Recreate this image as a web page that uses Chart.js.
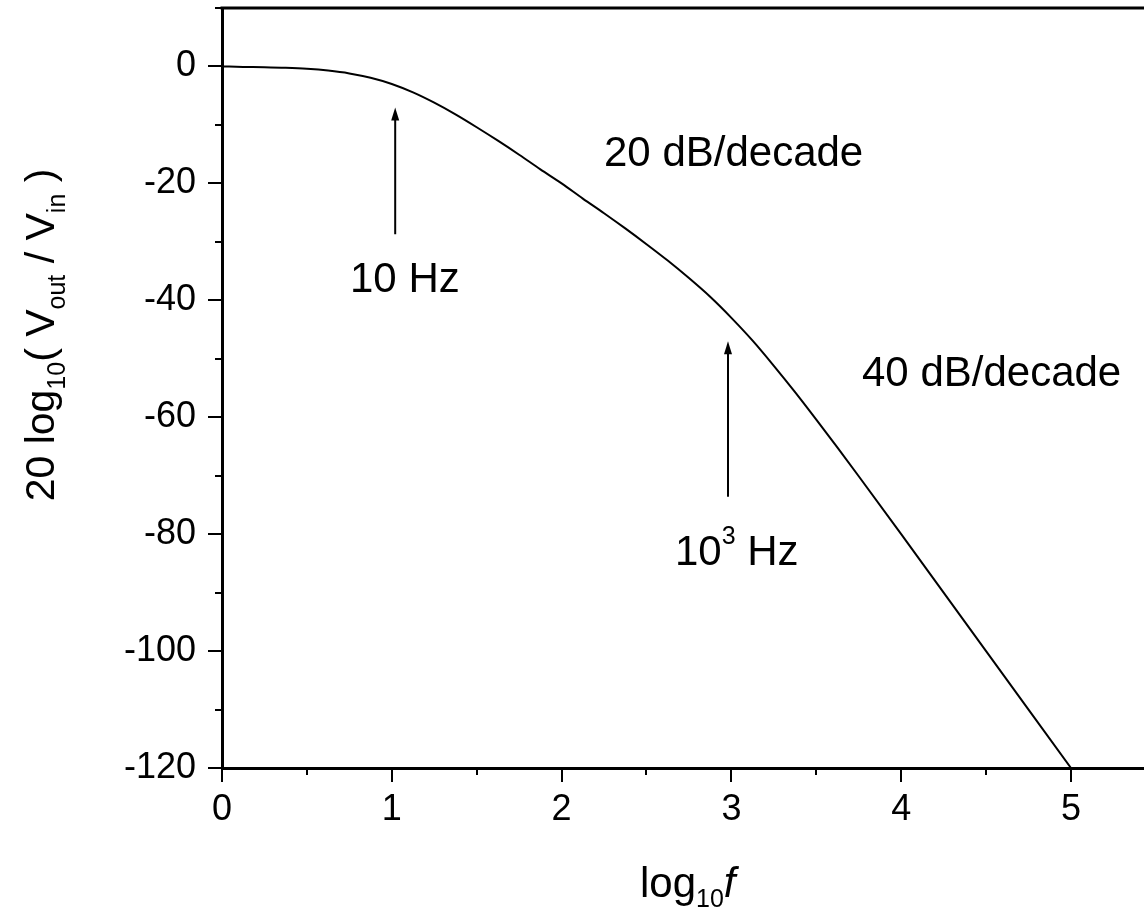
<!DOCTYPE html>
<html>
<head>
<meta charset="utf-8">
<script src="https://cdn.jsdelivr.net/npm/chart.js@4.4.1/dist/chart.umd.min.js"></script>
<style>
html, body { margin: 0; padding: 0; background: #fff; }
#wrap { width: 1144px; height: 916px; }
</style>
</head>
<body>
<div id="wrap"><canvas id="bode"></canvas></div>
<script>
// Amplitudengang, Werte
const logFreq = [0, 0.125, 0.25, 0.375, 0.5, 0.625, 0.75, 0.875, 1.0, 1.125, 1.25, 1.375, 1.5, 1.625, 1.75, 1.875, 2.0,
                 2.125, 2.25, 2.375, 2.5, 2.625, 2.75, 2.875, 3.0, 3.125, 3.25, 3.375, 3.5, 3.625, 3.75, 4.0, 4.25, 4.5, 4.75, 5.0];
const gainDb  = [0, -0.08, -0.14, -0.24, -0.41, -0.71, -1.19, -1.94, -3.0, -4.44, -6.2, -8.2, -10.4, -12.7, -15.1, -17.6, -20.0,
                 -22.6, -25.1, -27.7, -30.4, -33.2, -36.2, -39.4, -43.0, -46.9, -51.2, -55.7, -60.4, -65.2, -70.1, -80.0, -90.0, -100.0, -110.0, -120.0];

const xTickVals = [0, 1, 2, 3, 4, 5];
const yTickVals = [-120, -100, -80, -60, -40, -20, 0];

// Pfeile (x-Position, Spitze, Ende in dB)
const arrowX    = [1.02, 2.98];
const arrowTip  = [-7, -47];
const arrowTail = [-28.7, -73.6];

const FONT = "'Liberation Sans', Arial, sans-serif";

// Text mit Hoch-/Tiefstellung zeichnen
function richWidth(ctx, parts) {
    let w = 0;
    parts.forEach(p => {
        ctx.font = (p.italic ? 'italic ' : '') + p.size + 'px ' + FONT;
        w += ctx.measureText(p.t).width;
    });
    return w;
}
function drawRich(ctx, parts, x, y) {
    parts.forEach(p => {
        ctx.font = (p.italic ? 'italic ' : '') + p.size + 'px ' + FONT;
        ctx.fillText(p.t, x, y + (p.dy || 0));
        x += ctx.measureText(p.t).width;
    });
}

function noPad(s) {
    s.paddingTop = 0; s.paddingBottom = 0; s.paddingLeft = 0; s.paddingRight = 0;
}

const decorPlugin = {
    id: 'decor',
    afterDraw(chart) {
        const ctx = chart.ctx;
        const xs = chart.scales.x, ys = chart.scales.y;
        const a = chart.chartArea;
        ctx.save();
        ctx.strokeStyle = '#000';
        ctx.fillStyle = '#000';

        // obere Rahmenlinie
        ctx.lineWidth = 3;
        ctx.beginPath();
        ctx.moveTo(a.left - 1.5, a.top);
        ctx.lineTo(a.right, a.top);
        ctx.stroke();

        // Haupt- und Nebenstriche
        ctx.lineWidth = 2;
        for (let v = 0; v <= xs.max + 1e-9; v += 0.5) {
            const px = Math.round(xs.getPixelForValue(v));
            const len = (Math.abs(v - Math.round(v)) < 1e-6) ? 14 : 7;
            ctx.beginPath();
            ctx.moveTo(px, a.bottom);
            ctx.lineTo(px, a.bottom + len);
            ctx.stroke();
        }
        for (let v = -120; v <= ys.max + 1e-9; v += 10) {
            const py = Math.round(ys.getPixelForValue(v));
            const len = (v % 20 === 0) ? 14 : 7;
            ctx.beginPath();
            ctx.moveTo(a.left, py);
            ctx.lineTo(a.left - len, py);
            ctx.stroke();
        }

        // Pfeile
        arrowX.forEach((xv, i) => {
            const px = xs.getPixelForValue(xv);
            const tip = ys.getPixelForValue(arrowTip[i]);
            const tail = ys.getPixelForValue(arrowTail[i]);
            ctx.lineWidth = 2;
            ctx.beginPath();
            ctx.moveTo(px, tail);
            ctx.lineTo(px, tip + 10);
            ctx.stroke();
            ctx.beginPath();
            ctx.moveTo(px, tip);
            ctx.lineTo(px - 4, tip + 13);
            ctx.lineTo(px + 4, tip + 13);
            ctx.closePath();
            ctx.fill();
        });

        // Beschriftungen
        ctx.textBaseline = 'alphabetic';
        ctx.textAlign = 'left';
        drawRich(ctx, [{ t: '10 Hz', size: 42 }], 350, 292);
        drawRich(ctx, [{ t: '10', size: 42 }, { t: '3', size: 25, dy: -21 }, { t: ' Hz', size: 42 }], 675, 565);
        drawRich(ctx, [{ t: '20 dB/decade', size: 42 }], 604, 166);
        drawRich(ctx, [{ t: '40 dB/decade', size: 42 }], 862, 386);

        // x-Achsentitel
        drawRich(ctx, [
            { t: 'log', size: 42 },
            { t: '10', size: 25, dy: 10 },
            { t: 'f', size: 42, italic: true }
        ], 640, 897);

        // y-Achsentitel (gedreht)
        const yParts = [
            { t: '20 log', size: 41 },
            { t: '10', size: 25, dy: 11 },
            { t: '( V', size: 41 },
            { t: 'out', size: 25, dy: 11 },
            { t: ' / V', size: 41 },
            { t: 'in', size: 25, dy: 11 },
            { t: ' )', size: 41 }
        ];
        const tw = richWidth(ctx, yParts);
        ctx.translate(54, 335 + tw / 2);
        ctx.rotate(-Math.PI / 2);
        drawRich(ctx, yParts, 0, 0);
        ctx.restore();
    }
};

new Chart(document.getElementById('bode'), {
    type: 'line',
    data: {
        datasets: [{
            data: logFreq.map((x, i) => ({ x: x, y: gainDb[i] })),
            borderColor: '#000',
            borderWidth: 2,
            pointRadius: 0,
            cubicInterpolationMode: 'monotone',
            fill: false
        }]
    },
    options: {
        responsive: true,
        maintainAspectRatio: false,
        animation: false,
        layout: { padding: { top: 8, right: 0, left: 0, bottom: 0 } },
        plugins: { legend: { display: false }, tooltip: { enabled: false } },
        scales: {
            x: {
                type: 'linear',
                min: 0,
                max: 5.43,
                afterFit: s => { s.height = 148; noPad(s); },
                afterBuildTicks: s => { s.ticks = xTickVals.map(v => ({ value: v })); },
                ticks: {
                    color: '#000',
                    font: { family: FONT, size: 36 },
                    padding: 20,
                    maxRotation: 0,
                    callback: v => String(v)
                },
                grid: { display: true, drawOnChartArea: false, drawTicks: false },
                border: { display: true, color: '#000', width: 3 }
            },
            y: {
                type: 'linear',
                min: -120,
                max: 10,
                afterFit: s => { s.width = 222; noPad(s); },
                afterBuildTicks: s => { s.ticks = yTickVals.map(v => ({ value: v })); },
                ticks: {
                    color: '#000',
                    font: { family: FONT, size: 36 },
                    padding: 26,
                    callback: v => String(v)
                },
                grid: { display: true, drawOnChartArea: false, drawTicks: false },
                border: { display: true, color: '#000', width: 3 }
            }
        }
    },
    plugins: [decorPlugin]
});
</script>
</body>
</html>
